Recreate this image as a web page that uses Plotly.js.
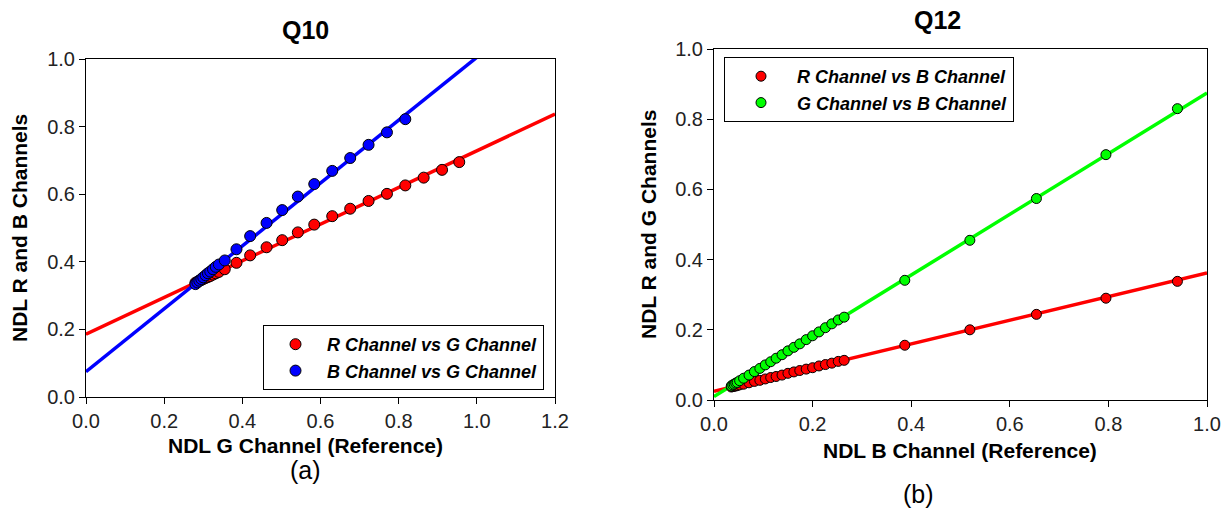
<!DOCTYPE html>
<html>
<head>
<meta charset="utf-8">
<script src="https://cdn.plot.ly/plotly-3.0.1.min.js"></script>
<style>html,body{margin:0;padding:0;background:#fff;}#chart{width:1231px;height:514px;}</style>
</head>
<body>
<div id="chart"></div>
<script>
// ---------- Panel (a) Q10 : reference = G channel ----------
const q10_gRef = [0.280,0.285,0.290,0.295,0.300,0.306,0.312,0.318,0.325,0.332,0.340,0.355,0.385,0.420,0.462,0.502,0.542,0.584,0.630,0.676,0.723,0.770,0.817,0.864,0.911,0.955];
const q10_R    = [0.338,0.341,0.344,0.346,0.349,0.352,0.355,0.358,0.362,0.366,0.370,0.378,0.397,0.419,0.443,0.464,0.487,0.510,0.535,0.557,0.580,0.601,0.626,0.649,0.672,0.695];
const q10_bRef = [0.280,0.285,0.290,0.295,0.300,0.306,0.312,0.318,0.325,0.332,0.340,0.355,0.385,0.420,0.462,0.502,0.542,0.584,0.630,0.676,0.723,0.770,0.817];
const q10_B    = [0.334,0.339,0.344,0.349,0.354,0.360,0.366,0.371,0.378,0.385,0.392,0.404,0.437,0.476,0.515,0.553,0.593,0.630,0.669,0.707,0.746,0.783,0.822];
const q10_fitX  = [0, 1.2];
const q10_fitR  = [0.186, 0.837];
const q10_fitB  = [0.075, 1.191];

// ---------- Panel (b) Q12 : reference = B channel ----------
const q12_bRef = [0.035,0.038,0.041,0.044,0.047,0.052,0.060,0.071,0.082,0.093,0.104,0.115,0.126,0.138,0.150,0.162,0.174,0.187,0.200,0.213,0.226,0.239,0.252,0.264,0.387,0.519,0.654,0.795,0.940];
const q12_R    = [0.037,0.038,0.039,0.040,0.041,0.043,0.045,0.049,0.053,0.056,0.060,0.064,0.067,0.071,0.076,0.080,0.084,0.088,0.092,0.097,0.101,0.105,0.110,0.113,0.156,0.200,0.244,0.290,0.338];
const q12_G    = [0.040,0.043,0.045,0.048,0.050,0.055,0.062,0.071,0.081,0.090,0.100,0.109,0.119,0.129,0.140,0.150,0.160,0.172,0.183,0.194,0.206,0.217,0.228,0.236,0.341,0.455,0.574,0.699,0.830];
const q12_fitX = [0, 1.0];
const q12_fitR = [0.025, 0.362];
const q12_fitG = [0.010, 0.875];

const xTicksA = [0,0.2,0.4,0.6,0.8,1.0,1.2];
const yTicks  = [0,0.2,0.4,0.6,0.8,1.0];
const xTicksB = [0,0.2,0.4,0.6,0.8,1.0];

const FONT = 'Arial, "Liberation Sans", sans-serif';
const RED = '#ff0000', BLUE = '#0000ff', GREEN = '#00ff00';

function mk(color, s){ return {symbol:'circle', size:s, color:color, line:{color:'#000', width:1}}; }

const traces = [
  {x:q10_fitX, y:q10_fitR, mode:'lines', line:{color:RED, width:3.5}, showlegend:false, xaxis:'x', yaxis:'y', hoverinfo:'skip'},
  {x:q10_fitX, y:q10_fitB, mode:'lines', line:{color:BLUE, width:3.5}, showlegend:false, xaxis:'x', yaxis:'y', hoverinfo:'skip'},
  {x:q10_gRef, y:q10_R, mode:'markers', name:'R Channel vs G Channel', marker:mk(RED, 11), xaxis:'x', yaxis:'y', legend:'legend'},
  {x:q10_bRef, y:q10_B, mode:'markers', name:'B Channel vs G Channel', marker:mk(BLUE, 11), xaxis:'x', yaxis:'y', legend:'legend'},

  {x:q12_fitX, y:q12_fitR, mode:'lines', line:{color:RED, width:3.5}, showlegend:false, xaxis:'x2', yaxis:'y2', hoverinfo:'skip'},
  {x:q12_fitX, y:q12_fitG, mode:'lines', line:{color:GREEN, width:3.5}, showlegend:false, xaxis:'x2', yaxis:'y2', hoverinfo:'skip'},
  {x:q12_bRef, y:q12_R, mode:'markers', name:'R Channel vs B Channel', marker:mk(RED, 10), xaxis:'x2', yaxis:'y2', legend:'legend2'},
  {x:q12_bRef, y:q12_G, mode:'markers', name:'G Channel vs B Channel', marker:mk(GREEN, 10), xaxis:'x2', yaxis:'y2', legend:'legend2'}
];

const W = 1231, H = 514;
const px = v => v / W, py = v => 1 - v / H;

const axisBase = {
  showgrid:false, zeroline:false, showline:true, linecolor:'#000', linewidth:1, mirror:true,
  ticks:'outside', ticklen:6, tickwidth:1, tickcolor:'#000',
  tickfont:{family:FONT, size:20, color:'#222'}, tickformat:'.1f', fixedrange:true
};

const legendFont = {family:FONT, size:18, color:'#000', weight:'bold', style:'italic'};

function ann(text, x, y, size, angle){
  return {text:text, x:px(x), y:py(y), xref:'paper', yref:'paper', xanchor:'center', yanchor:'middle',
          showarrow:false, textangle:angle||0, font:{family:FONT, size:size, color:'#000'}};
}

const layout = {
  width:W, height:H,
  margin:{l:0, r:0, t:0, b:0},
  paper_bgcolor:'#fff', plot_bgcolor:'#fff',
  showlegend:true,
  xaxis: Object.assign({}, axisBase, {domain:[px(86), px(555)], range:[0,1.2], tickvals:xTicksA, anchor:'y'}),
  yaxis: Object.assign({}, axisBase, {domain:[py(397), py(59)], range:[0,1.0], tickvals:yTicks, anchor:'x'}),
  xaxis2: Object.assign({}, axisBase, {domain:[px(714), px(1207)], range:[0,1.0], tickvals:xTicksB, anchor:'y2'}),
  yaxis2: Object.assign({}, axisBase, {domain:[py(400), py(49)], range:[0,1.0], tickvals:yTicks, anchor:'x2'}),
  legend: {x:px(263), y:py(325), xanchor:'left', yanchor:'top', bgcolor:'#fff', bordercolor:'#000', borderwidth:1,
           font:legendFont, itemwidth:53},
  legend2:{x:px(724), y:py(57), xanchor:'left', yanchor:'top', bgcolor:'#fff', bordercolor:'#000', borderwidth:1,
           font:legendFont, itemwidth:62},
  annotations:[
    ann('<b>Q10</b>', 305, 30, 25),
    ann('<b>Q12</b>', 937, 20, 25),
    ann('<b>NDL G Channel (Reference)</b>', 305, 445, 21),
    ann('(a)', 305, 470, 25),
    ann('<b>NDL B Channel (Reference)</b>', 960, 450, 21),
    ann('(b)', 918, 494, 25),
    ann('<b>NDL R and B Channels</b>', 19, 228, 21, -90),
    ann('<b>NDL R and G Channels</b>', 648, 225, 21, -90)
  ]
};

Plotly.newPlot('chart', traces, layout, {displayModeBar:false, staticPlot:true});
</script>
</body>
</html>
